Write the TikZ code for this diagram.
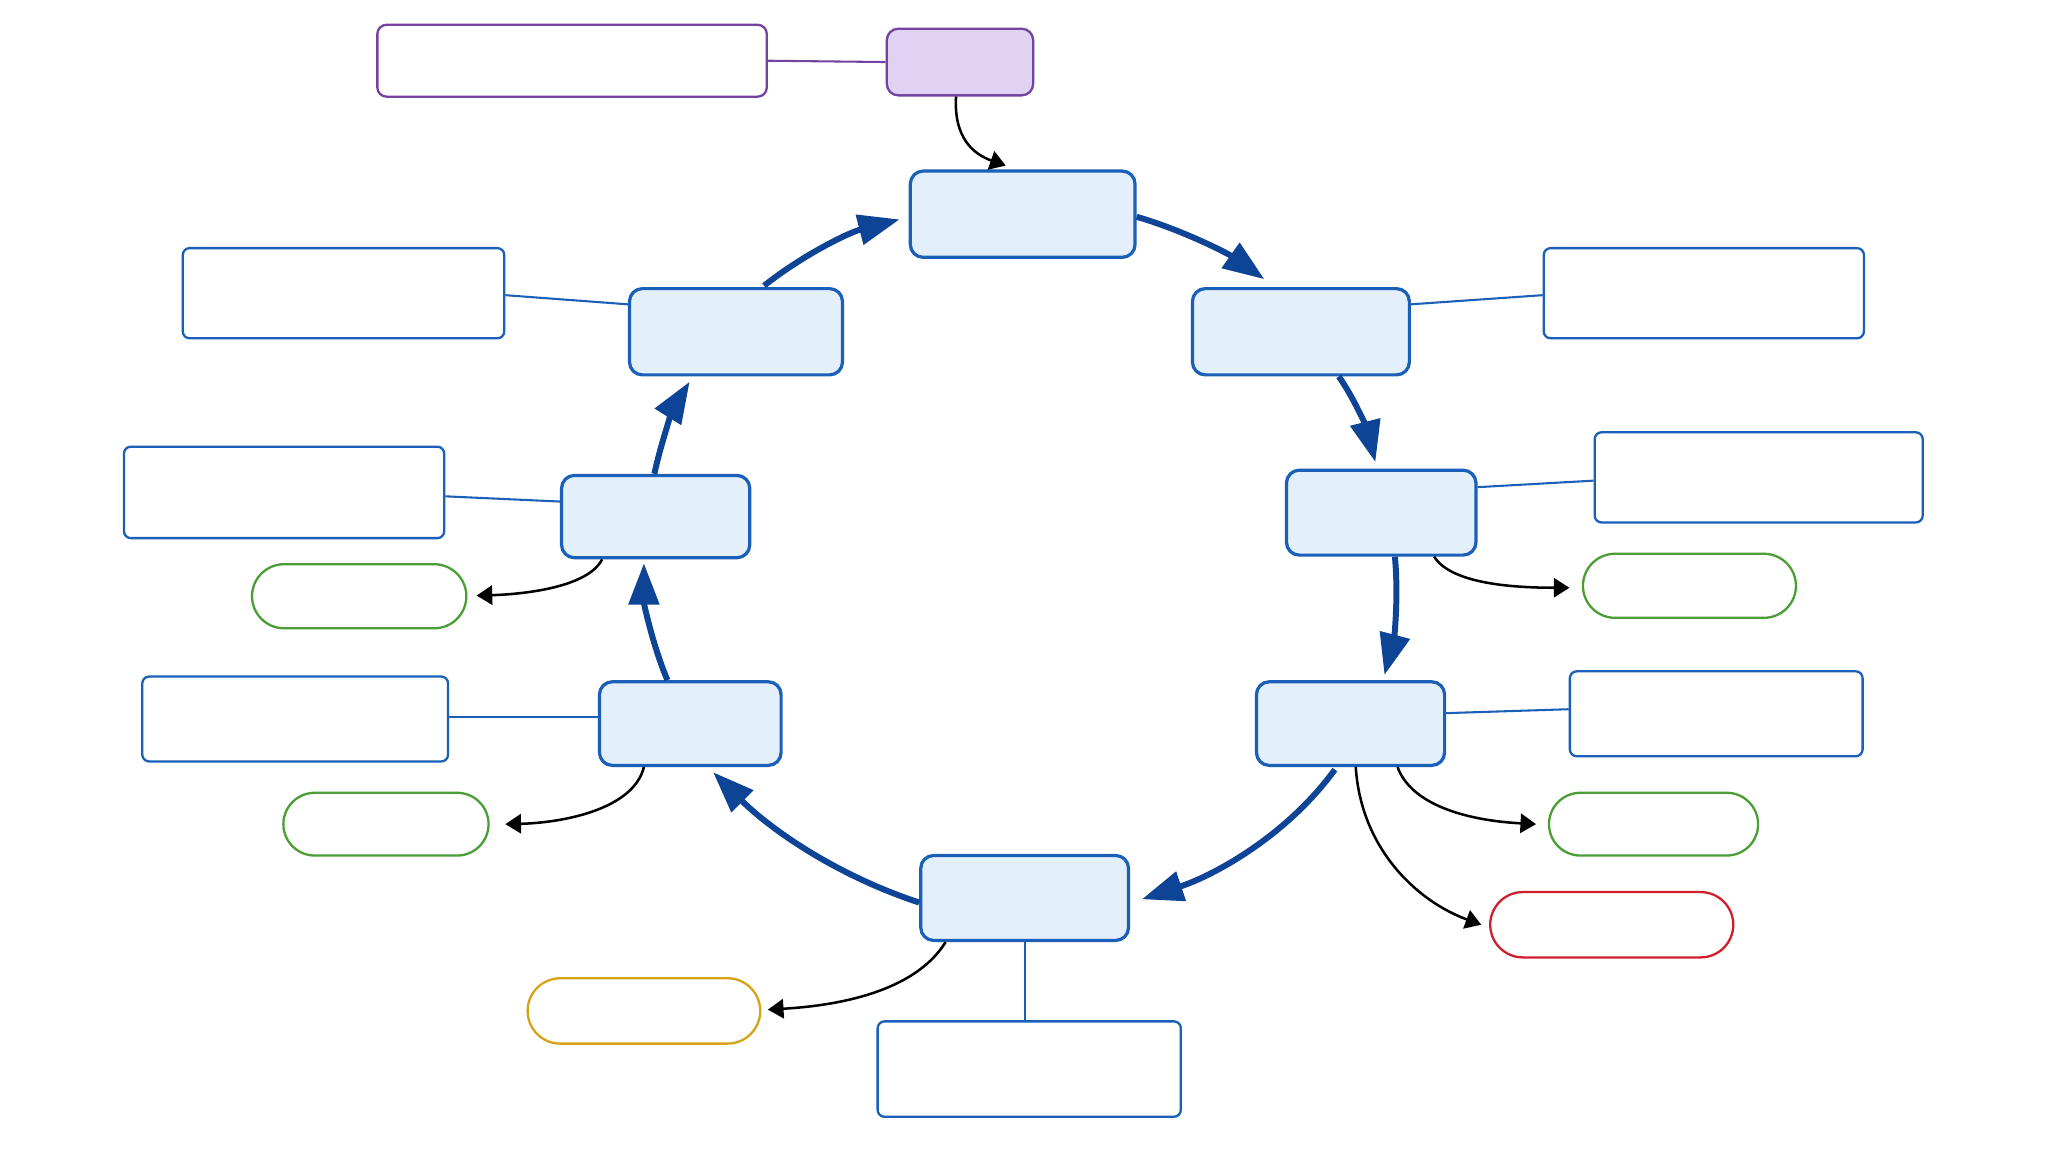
\documentclass[tikz,border=0pt]{standalone}
\usetikzlibrary{arrows.meta,calc,shapes.misc}
\definecolor{mainfill}{HTML}{E4EFFC}
\definecolor{mainline}{HTML}{1A5FB8}
\definecolor{flowblue}{HTML}{0D4496}
\definecolor{purpline}{HTML}{7442A0}
\definecolor{purpfill}{HTML}{E0D2F2}
\definecolor{greenline}{HTML}{4A9E35}
\definecolor{redline}{HTML}{D0202E}
\definecolor{yellowline}{HTML}{D4A317}
\tikzset{
  mainbox/.style={draw=mainline,fill=mainfill,line width=0.7pt,rounded corners=2.8pt,inner sep=0pt},
  notebox/.style={draw=mainline,fill=white,line width=0.5pt,rounded corners=1.5pt,inner sep=0pt},
  pnote/.style={draw=purpline,fill=white,line width=0.5pt,rounded corners=2pt,inner sep=0pt},
  pbox/.style={draw=purpline,fill=purpfill,line width=0.5pt,rounded corners=2.5pt,inner sep=0pt},
  oval/.style={rounded rectangle,fill=white,line width=0.5pt,inner sep=0pt},
  flow/.style={draw=flowblue,line width=1.3pt,-{Triangle[length=9pt,width=6.5pt]}},
  side/.style={draw=black,line width=0.55pt,-{Triangle[length=3.4pt,width=4.2pt]}},
  tie/.style={draw=mainline,line width=0.45pt},
}
\begin{document}
\begin{tikzpicture}[x=0.01cm,y=-0.01cm]
\useasboundingbox[fill=white] (0,0) rectangle (1568,882);
% nodes
\node[pnote,minimum width=2.98cm,minimum height=0.55cm] (PN) at (438,46.5) {};
\node[pbox,minimum width=1.12cm,minimum height=0.51cm] (PB) at (735,47.5) {};
\node[mainbox,minimum width=1.72cm,minimum height=0.66cm] (T) at (783,164) {};
\node[mainbox,minimum width=1.66cm,minimum height=0.66cm] (R1) at (996,254) {};
\node[notebox,minimum width=2.45cm,minimum height=0.69cm] (NR1) at (1304.5,224.5) {};
\node[mainbox,minimum width=1.45cm,minimum height=0.65cm] (R2) at (1057.5,392.5) {};
\node[notebox,minimum width=2.51cm,minimum height=0.69cm] (NR2) at (1346.5,365.5) {};
\node[oval,draw=greenline,minimum width=1.63cm,minimum height=0.49cm] (GR2) at (1293.5,448.5) {};
\node[mainbox,minimum width=1.44cm,minimum height=0.64cm] (R3) at (1034,554) {};
\node[notebox,minimum width=2.24cm,minimum height=0.65cm] (NR3) at (1314,546.5) {};
\node[oval,draw=greenline,minimum width=1.60cm,minimum height=0.48cm] (GR3) at (1266,631) {};
\node[oval,draw=redline,minimum width=1.86cm,minimum height=0.50cm] (RD) at (1234,708) {};
\node[mainbox,minimum width=1.59cm,minimum height=0.65cm] (B) at (784.5,687.5) {};
\node[notebox,minimum width=2.32cm,minimum height=0.73cm] (NB) at (788,818.5) {};
\node[oval,draw=yellowline,minimum width=1.78cm,minimum height=0.50cm] (Y) at (493,774) {};
\node[mainbox,minimum width=1.39cm,minimum height=0.64cm] (L3) at (528.5,554) {};
\node[notebox,minimum width=2.34cm,minimum height=0.65cm] (NL3) at (226,550.5) {};
\node[oval,draw=greenline,minimum width=1.57cm,minimum height=0.48cm] (GL3) at (295.5,631) {};
\node[mainbox,minimum width=1.44cm,minimum height=0.63cm] (L2) at (502,395.5) {};
\node[notebox,minimum width=2.45cm,minimum height=0.70cm] (NL2) at (217.5,377) {};
\node[oval,draw=greenline,minimum width=1.64cm,minimum height=0.49cm] (GL2) at (275,456.5) {};
\node[mainbox,minimum width=1.63cm,minimum height=0.66cm] (L1) at (563.5,254) {};
\node[notebox,minimum width=2.46cm,minimum height=0.69cm] (NL1) at (263,224.5) {};
% ties
\draw[draw=purpline,line width=0.45pt] (PN.east) -- (PB.west);
\draw[tie] ($(R1.east)+(0,-21)$) -- ($(NR1.west)+(0,1.5)$);
\draw[tie] ($(R2.east)+(0,-19.5)$) -- ($(NR2.west)+(0,2.5)$);
\draw[tie] ($(R3.east)+(0,-8)$) -- ($(NR3.west)+(0,-3.5)$);
\draw[tie] (B.south) -- (B.south |- NB.north);
\draw[tie] ($(L3.west)+(0,-5)$) -- ($(NL3.east)+(0,-1.5)$);
\draw[tie] ($(L2.west)+(0,-11.5)$) -- ($(NL2.east)+(0,3)$);
\draw[tie] ($(L1.west)+(0,-21)$) -- ($(NL1.east)+(0,1.5)$);
% main cycle
\draw[flow] ($(T.east)+(0,2)$) .. controls (905,176) and (940,194) .. ($(R1.north)+(-28,-6)$);
\draw[flow] ($(R1.south)+(29,0)$) .. controls (1037,305) and (1047,330) .. ($(R2.north)+(-4.5,-5)$);
\draw[flow] ($(R2.south)+(10.5,0)$) .. controls (1071,460) and (1067,490) .. ($(R3.north)+(26,-4)$);
\draw[flow] ($(R3.south)+(-12,2)$) .. controls (985,640) and (930,670) .. ($(B.east)+(9,1)$);
\draw[flow] ($(B.west)+(0,3.5)$) .. controls (640,670) and (590,635) .. ($(L3.south)+(17.5,4)$);
\draw[flow] ($(L3.north)+(-17.5,0)$) .. controls (500,495) and (493,462) .. ($(L2.south)+(-9,3)$);
\draw[flow] ($(L2.north)+(-1,0)$) .. controls (507,335) and (517,310) .. ($(L1.south)+(-35.5,4)$);
\draw[flow] ($(L1.north)+(21.5,-1)$) .. controls (615,195) and (650,178) .. ($(T.west)+(-7,4)$);
% side arrows
\draw[side] ($(PB.south)+(-3,0)$) .. controls (730,105) and (745,118) .. ($(T.north)+(-13,-3)$);
\draw[side] ($(R2.south)+(40.5,0)$) .. controls (1110,445) and (1150,450) .. ($(GR2.west)+(-9.5,1.5)$);
\draw[side] ($(R3.south)+(36,0)$) .. controls (1080,615) and (1120,628) .. ($(GR3.west)+(-9,0)$);
\draw[side] ($(R3.south)+(4,0)$) .. controls (1042,650) and (1085,690) .. ($(RD.west)+(-6,0)$);
\draw[side] ($(B.south)+(-60.5,0)$) .. controls (700,760) and (640,770) .. ($(Y.east)+(5,-1)$);
\draw[side] ($(L3.south)+(-35.5,0)$) .. controls (485,620) and (430,630) .. ($(GL3.east)+(12,0)$);
\draw[side] ($(L2.south)+(-41,0)$) .. controls (450,450) and (400,455) .. ($(GL2.east)+(7,-0.5)$);
\end{tikzpicture}
\end{document}
